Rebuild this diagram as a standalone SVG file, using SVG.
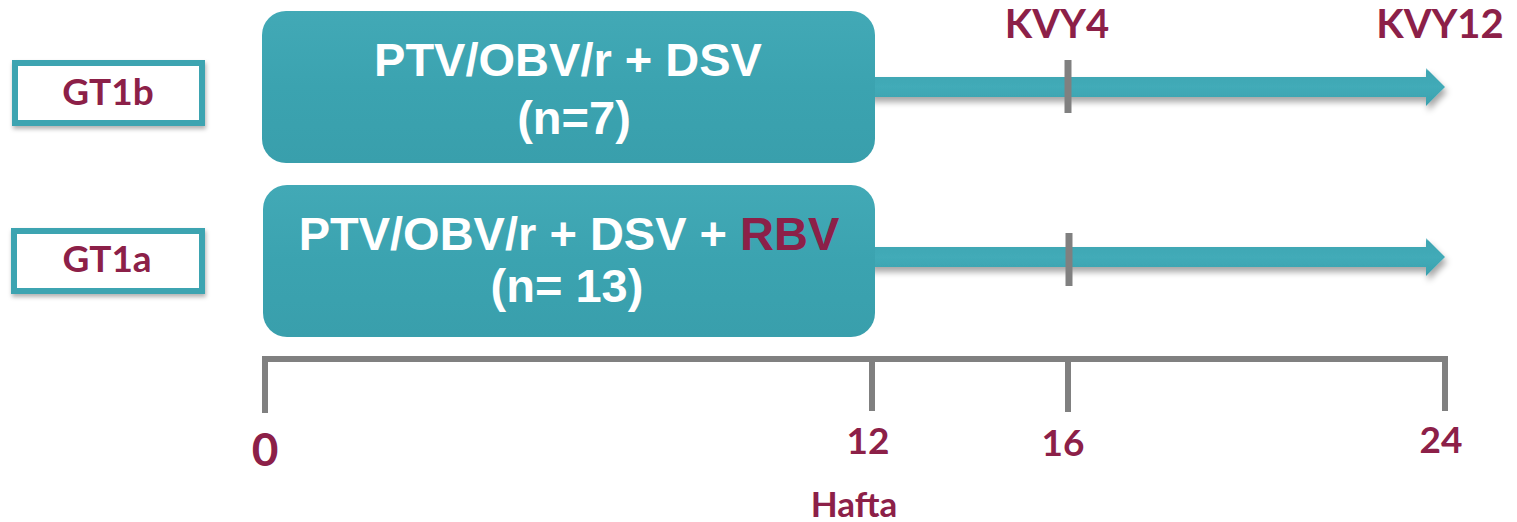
<svg xmlns="http://www.w3.org/2000/svg" width="1517" height="522" viewBox="0 0 1517 522">
  <defs>
    <filter id="shadow" x="-10%" y="-50%" width="120%" height="200%">
      <feDropShadow dx="2" dy="5" stdDeviation="3" flood-color="#000" flood-opacity="0.35"/>
    </filter>
    <filter id="shadowSmall" x="-10%" y="-20%" width="120%" height="150%">
      <feDropShadow dx="1" dy="3" stdDeviation="2" flood-color="#000" flood-opacity="0.3"/>
    </filter>
    <linearGradient id="tealGrad" x1="0" y1="0" x2="0" y2="1">
      <stop offset="0" stop-color="#42a9b6"/>
      <stop offset="0.5" stop-color="#3ba3b0"/>
      <stop offset="1" stop-color="#399fac"/>
    </linearGradient>
    <linearGradient id="shaftGrad" x1="0" y1="0" x2="0" y2="1">
      <stop offset="0" stop-color="#9fd3d9"/>
      <stop offset="0.08" stop-color="#3ea5b2"/>
      <stop offset="0.5" stop-color="#42abb8"/>
      <stop offset="1" stop-color="#3aa1ae"/>
    </linearGradient>
  </defs>
  <style>
    .gt { fill: #ffffff; stroke: #3ca4b1; stroke-width: 6; }
    .gtText { font-family: Lato, "Open Sans", sans-serif; font-weight: bold; font-size: 37px; fill: #8c2048; text-anchor: middle; }
    .tx { fill: url(#tealGrad); }
    .txText { font-family: "Liberation Sans", Arial, sans-serif; font-weight: bold; font-size: 47px; fill: #ffffff; text-anchor: middle; }
    .rbv { fill: #8c2048; }
    .arrow { fill: url(#shaftGrad); }
    .tick { stroke: #808080; stroke-width: 7; fill: none; }
    .axis { stroke: #808080; stroke-width: 6; fill: none; stroke-linejoin: miter; }
    .lbl { font-family: Lato, "Open Sans", sans-serif; font-weight: bold; font-size: 37px; fill: #8c2048; text-anchor: middle; }
    .kvy { font-size: 40px; }
  </style>

  <g id="connectors">
    <polygon class="arrow" filter="url(#shadow)" points="868,77 1426,77 1426,68 1445,87 1426,106 1426,97 868,97"/>
    <polygon class="arrow" filter="url(#shadow)" points="868,247 1426,247 1426,238 1445,257 1426,276 1426,267 868,267"/>
    <line class="tick" x1="1068" y1="60" x2="1068" y2="113"/>
    <line class="tick" x1="1069" y1="233" x2="1069" y2="286"/>
  </g>

  <g id="gt1b">
    <rect class="gt" x="15" y="63" width="187" height="60" filter="url(#shadowSmall)"/>
    <text class="gtText" x="108" y="105">GT1b</text>
  </g>
  <g id="gt1a">
    <rect class="gt" x="14" y="231" width="188" height="60" filter="url(#shadowSmall)"/>
    <text class="gtText" x="107" y="272">GT1a</text>
  </g>

  <g id="treatment1">
    <rect class="tx" x="262" y="11" width="613" height="152" rx="24" ry="24"/>
    <text class="txText" x="568" y="76">PTV/OBV/r + DSV</text>
    <text class="txText" x="574" y="134">(n=7)</text>
  </g>
  <g id="treatment2">
    <rect class="tx" x="263" y="185" width="612" height="152" rx="24" ry="24"/>
    <text class="txText" x="569" y="250">PTV/OBV/r + DSV + <tspan class="rbv">RBV</tspan></text>
    <text class="txText" x="567" y="302">(n= 13)</text>
  </g>

  <g id="kvy4">
    <text class="lbl kvy" x="1057" y="38">KVY4</text>
  </g>
  <g id="kvy12">
    <text class="lbl kvy" x="1440" y="38">KVY12</text>
  </g>

  <g id="timeline">
    <path class="axis" d="M265,413 V359 H1445 V411"/>
    <line class="axis" x1="872" y1="359" x2="872" y2="411"/>
    <line class="axis" x1="1068" y1="359" x2="1068" y2="412"/>
    <text class="lbl" x="265" y="466" style="font-size:46px">0</text>
    <text class="lbl" x="868" y="454">12</text>
    <text class="lbl" x="1063" y="456">16</text>
    <text class="lbl" x="1441" y="453">24</text>
    <text class="lbl" x="854" y="517" style="font-size:35px">Hafta</text>
  </g>
</svg>
